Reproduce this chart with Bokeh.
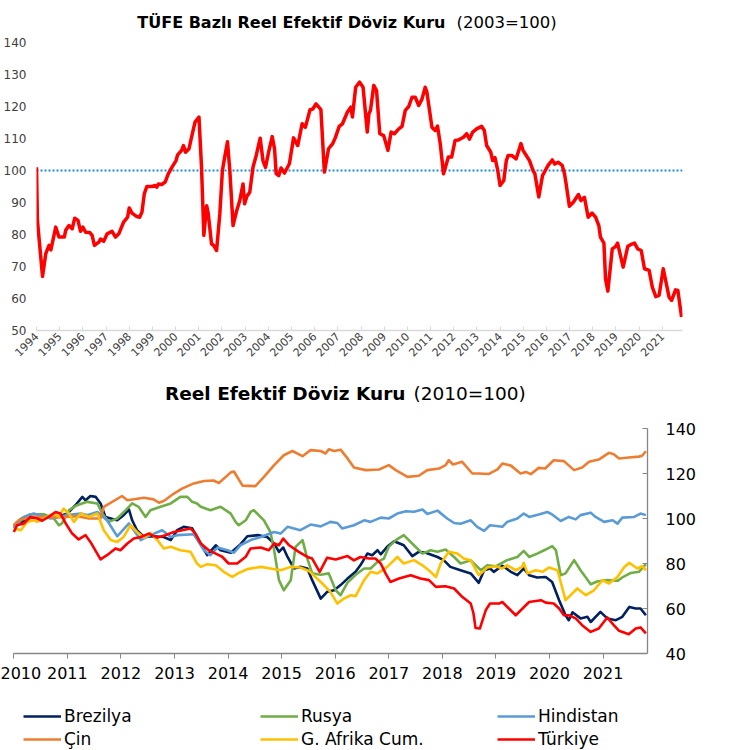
import math
from bokeh.plotting import figure
from bokeh.models import FixedTicker, Span, Legend, LegendItem, Range1d, Label
from bokeh.layouts import column
from bokeh.embed import file_html
from bokeh.resources import INLINE

FONT = "DejaVu Sans"

# ---------------- Top chart: TÜFE bazlı reel efektif döviz kuru (2003=100) ----------------
top_title_bold = "TÜFE Bazlı Reel Efektif Döviz Kuru"
top_title_rest = "(2003=100)"
tufe_t = [1994.00, 1994.04, 1994.26, 1994.40, 1994.54, 1994.62, 1994.83, 1994.97, 1995.20, 1995.26,
          1995.40, 1995.54, 1995.65, 1995.79, 1995.90, 1996.00, 1996.12, 1996.30, 1996.40, 1996.50,
          1996.69, 1996.76, 1996.90, 1997.05, 1997.26, 1997.41, 1997.55, 1997.76, 1997.93, 1998.00,
          1998.12, 1998.33, 1998.45, 1998.55, 1998.65, 1998.76, 1998.98, 1999.12, 1999.19, 1999.26,
          1999.40, 1999.55, 1999.69, 1999.84, 2000.02, 2000.09, 2000.26, 2000.34, 2000.43, 2000.58,
          2000.69, 2000.84, 2001.01, 2001.12, 2001.22, 2001.34, 2001.41, 2001.55, 2001.65, 2001.77,
          2001.91, 2002.02, 2002.12, 2002.24, 2002.34, 2002.48, 2002.62, 2002.77, 2002.91, 2002.98,
          2003.08, 2003.20, 2003.34, 2003.48, 2003.65, 2003.77, 2003.88, 2004.03, 2004.17, 2004.27,
          2004.34, 2004.45, 2004.55, 2004.70, 2004.91, 2005.09, 2005.27, 2005.46, 2005.60, 2005.80,
          2005.92, 2006.06, 2006.27, 2006.42, 2006.60, 2006.77, 2006.89, 2007.06, 2007.20, 2007.41,
          2007.56, 2007.63, 2007.77, 2007.94, 2008.09, 2008.27, 2008.34, 2008.41, 2008.55, 2008.67,
          2008.81, 2008.98, 2009.16, 2009.30, 2009.44, 2009.63, 2009.77, 2009.91, 2010.06, 2010.20,
          2010.34, 2010.49, 2010.63, 2010.77, 2010.84, 2011.06, 2011.20, 2011.30, 2011.42, 2011.56,
          2011.77, 2011.91, 2012.06, 2012.20, 2012.42, 2012.56, 2012.68, 2012.82, 2012.99, 2013.20,
          2013.32, 2013.42, 2013.60, 2013.68, 2013.78, 2013.90, 2014.00, 2014.16, 2014.27, 2014.35,
          2014.50, 2014.69, 2014.83, 2014.90, 2014.99, 2015.13, 2015.27, 2015.42, 2015.50, 2015.67,
          2015.83, 2015.95, 2016.07, 2016.25, 2016.36, 2016.50, 2016.68, 2016.78, 2016.85, 2016.99,
          2017.16, 2017.38, 2017.49, 2017.64, 2017.80, 2017.97, 2018.12, 2018.26, 2018.33, 2018.48,
          2018.55, 2018.65, 2018.84, 2018.98, 2019.07, 2019.31, 2019.51, 2019.65, 2019.80, 2019.94,
          2020.09, 2020.23, 2020.43, 2020.57, 2020.72, 2020.86, 2021.04, 2021.29, 2021.40, 2021.57,
          2021.67, 2021.83]
tufe_v = [101.0, 84.4, 66.9, 74.0, 76.6, 75.2, 82.3, 79.2, 79.2, 81.3,
          82.8, 81.8, 85.1, 84.4, 81.0, 82.3, 80.7, 80.6, 79.7, 76.6,
          77.6, 78.6, 77.9, 80.2, 81.0, 79.2, 80.2, 83.9, 85.4, 88.3,
          86.7, 85.6, 85.4, 87.0, 92.7, 95.0, 95.0, 95.3, 94.8, 95.8,
          95.6, 96.4, 99.0, 101.0, 103.1, 104.9, 106.3, 107.8, 105.7, 106.8,
          110.4, 115.1, 116.7, 101.0, 79.7, 89.0, 86.5, 77.1, 76.5, 75.0,
          86.5, 100.0, 104.2, 109.0, 100.0, 82.8, 87.0, 90.6, 95.8, 89.6,
          92.0, 93.2, 101.0, 104.7, 110.1, 103.1, 101.0, 106.3, 110.6, 106.8,
          99.0, 98.4, 100.8, 99.2, 102.1, 110.2, 107.8, 114.6, 113.5, 119.0,
          119.2, 120.8, 119.0, 99.5, 106.8, 108.3, 110.2, 113.8, 114.6, 118.2,
          119.8, 116.7, 126.0, 127.6, 126.0, 112.0, 117.7, 118.8, 126.6, 125.0,
          111.5, 110.9, 106.3, 112.0, 111.5, 113.0, 113.8, 118.8, 120.0, 122.9,
          122.9, 120.3, 122.3, 126.0, 124.6, 113.5, 112.5, 113.9, 108.3, 99.0,
          104.2, 104.2, 109.4, 109.5, 110.4, 111.5, 109.8, 112.0, 113.0, 113.8,
          112.5, 107.8, 105.7, 103.1, 104.0, 100.0, 95.3, 96.9, 103.1, 104.7,
          104.7, 103.6, 106.8, 108.4, 106.3, 104.7, 103.1, 100.0, 99.0, 91.7,
          98.4, 100.0, 101.6, 103.3, 102.0, 102.6, 101.6, 99.0, 95.8, 88.8,
          90.1, 92.5, 90.6, 91.6, 85.4, 86.7, 85.4, 82.8, 79.2, 77.3,
          66.1, 62.3, 75.5, 76.2, 77.3, 69.8, 76.3, 76.9, 77.3, 75.5,
          75.0, 69.3, 68.8, 63.5, 60.6, 61.0, 69.3, 60.4, 59.4, 62.7,
          62.5, 54.2]
TUFE_BASE = 100
top_years = list(range(1994, 2022))
top_yticks = list(range(50, 150, 10))

# ---------------- Bottom chart: Reel efektif döviz kuru (2010=100) ----------------
bottom_title_bold = "Reel Efektif Döviz Kuru"
bottom_title_rest = "(2010=100)"
brezilya_t = [2010.00, 2010.25, 2010.50, 2010.81, 2011.00, 2011.15, 2011.28, 2011.34, 2011.43, 2011.53,
              2011.62, 2011.71, 2011.81, 2011.93, 2012.05, 2012.15, 2012.21, 2012.30, 2012.43, 2012.61,
              2012.80, 2012.93, 2013.05, 2013.17, 2013.33, 2013.42, 2013.61, 2013.77, 2013.86, 2014.05,
              2014.23, 2014.36, 2014.55, 2014.73, 2014.86, 2014.95, 2015.03, 2015.11, 2015.23, 2015.35,
              2015.48, 2015.57, 2015.73, 2015.85, 2015.98, 2016.10, 2016.23, 2016.38, 2016.47, 2016.60,
              2016.69, 2016.79, 2016.85, 2016.97, 2017.10, 2017.28, 2017.44, 2017.56, 2017.69, 2017.91,
              2018.03, 2018.15, 2018.34, 2018.53, 2018.68, 2018.78, 2018.89, 2018.96, 2019.12, 2019.28,
              2019.40, 2019.52, 2019.62, 2019.77, 2019.93, 2020.05, 2020.18, 2020.30, 2020.36, 2020.43,
              2020.58, 2020.71, 2020.77, 2020.95, 2021.08, 2021.24, 2021.36, 2021.49, 2021.61, 2021.70,
              2021.80]
brezilya_v = [96.3, 100.0, 100.7, 100.7, 102.2, 105.9, 109.6, 108.1, 110.0, 109.6,
              106.7, 100.7, 100.0, 99.2, 101.5, 104.0, 99.2, 94.8, 91.8, 92.1,
              91.8, 90.4, 94.8, 96.3, 95.6, 91.8, 83.7, 88.1, 85.9, 84.8,
              88.5, 92.1, 92.6, 91.8, 88.9, 85.2, 87.1, 82.9, 77.8, 78.5,
              77.8, 72.6, 64.4, 67.4, 68.1, 70.4, 73.3, 76.3, 79.2, 84.4,
              83.7, 85.9, 84.1, 87.4, 89.9, 88.1, 83.3, 85.2, 84.8, 82.9,
              81.4, 78.5, 77.0, 75.6, 71.4, 77.0, 77.8, 76.3, 79.0, 76.3,
              74.8, 77.8, 74.8, 73.8, 74.0, 71.8, 63.7, 57.0, 54.8, 58.3,
              55.6, 56.3, 54.0, 58.5, 55.6, 54.8, 56.3, 60.7, 60.0, 60.0,
              57.0]

rusya_t = [2010.00, 2010.13, 2010.31, 2010.56, 2010.75, 2010.84, 2010.90, 2011.03, 2011.18, 2011.37,
           2011.56, 2011.65, 2011.77, 2011.93, 2012.09, 2012.21, 2012.33, 2012.46, 2012.55, 2012.74,
           2012.93, 2013.11, 2013.24, 2013.33, 2013.42, 2013.49, 2013.67, 2013.86, 2014.05, 2014.14,
           2014.20, 2014.33, 2014.42, 2014.48, 2014.67, 2014.79, 2014.86, 2014.95, 2015.04, 2015.17,
           2015.26, 2015.39, 2015.48, 2015.57, 2015.73, 2015.88, 2016.01, 2016.10, 2016.23, 2016.38,
           2016.54, 2016.66, 2016.79, 2016.91, 2017.00, 2017.13, 2017.28, 2017.47, 2017.63, 2017.78,
           2017.91, 2018.06, 2018.22, 2018.34, 2018.53, 2018.72, 2018.84, 2019.00, 2019.21, 2019.40,
           2019.52, 2019.62, 2019.77, 2019.93, 2020.05, 2020.12, 2020.21, 2020.30, 2020.46, 2020.58,
           2020.77, 2020.89, 2021.08, 2021.27, 2021.36, 2021.52, 2021.67, 2021.80]
rusya_v = [97.0, 99.9, 101.9, 101.9, 100.0, 97.0, 97.8, 103.7, 105.9, 107.4,
           106.7, 102.2, 98.5, 100.0, 103.7, 106.7, 105.2, 100.7, 103.7, 105.2,
           106.7, 109.6, 109.6, 107.4, 106.7, 105.2, 103.7, 105.2, 102.2, 98.5,
           97.0, 99.2, 102.9, 103.7, 99.2, 94.0, 85.9, 72.6, 68.1, 72.6,
           87.4, 90.4, 82.2, 75.6, 75.0, 75.6, 68.1, 65.9, 71.5, 75.0,
           77.8, 77.8, 80.7, 82.2, 87.4, 90.4, 92.6, 88.1, 84.4, 85.9,
           85.2, 86.2, 82.9, 80.0, 81.4, 77.0, 79.2, 78.8, 81.5, 82.9,
           85.6, 82.9, 84.4, 86.2, 87.7, 85.9, 74.8, 75.6, 81.5, 77.0,
           70.8, 72.0, 72.6, 72.3, 73.8, 75.8, 76.3, 79.7]

hindistan_t = [2010.00, 2010.19, 2010.37, 2010.69, 2011.00, 2011.25, 2011.37, 2011.56, 2011.74, 2011.93,
               2012.15, 2012.37, 2012.55, 2012.77, 2012.93, 2013.05, 2013.36, 2013.55, 2013.67, 2013.80,
               2013.99, 2014.11, 2014.23, 2014.42, 2014.61, 2014.86, 2014.98, 2015.11, 2015.35, 2015.54,
               2015.73, 2015.91, 2016.04, 2016.13, 2016.35, 2016.54, 2016.66, 2016.85, 2017.00, 2017.16,
               2017.32, 2017.47, 2017.63, 2017.72, 2017.91, 2018.09, 2018.22, 2018.34, 2018.53, 2018.65,
               2018.78, 2018.89, 2019.12, 2019.21, 2019.40, 2019.52, 2019.62, 2019.80, 2019.96, 2020.05,
               2020.21, 2020.36, 2020.49, 2020.58, 2020.77, 2020.86, 2021.02, 2021.18, 2021.27, 2021.36,
               2021.58, 2021.70, 2021.80]
hindistan_v = [95.6, 100.7, 102.2, 100.0, 101.5, 102.2, 101.5, 102.9, 99.2, 92.1,
               97.8, 90.4, 92.6, 94.8, 91.8, 92.6, 93.0, 85.9, 83.7, 87.1,
               85.9, 84.8, 88.1, 90.4, 91.8, 94.0, 93.3, 96.3, 94.8, 97.3,
               96.5, 98.5, 98.0, 95.6, 97.0, 99.2, 98.5, 100.4, 100.0, 102.2,
               103.2, 103.0, 104.0, 102.0, 103.5, 100.0, 98.0, 97.7, 99.2, 96.3,
               94.5, 97.0, 96.3, 98.5, 100.0, 102.2, 100.7, 101.8, 102.9, 101.8,
               98.9, 100.7, 99.6, 101.5, 102.6, 100.7, 98.5, 99.2, 97.7, 100.4,
               100.7, 102.2, 101.5]

cin_t = [2010.00, 2010.09, 2010.37, 2010.80, 2011.19, 2011.40, 2011.62, 2011.68, 2012.02, 2012.12,
         2012.43, 2012.61, 2012.71, 2012.80, 2012.99, 2013.14, 2013.36, 2013.55, 2013.73, 2013.83,
         2014.05, 2014.11, 2014.27, 2014.51, 2014.67, 2014.86, 2015.04, 2015.20, 2015.39, 2015.54,
         2015.73, 2015.82, 2015.88, 2015.98, 2016.10, 2016.23, 2016.35, 2016.57, 2016.82, 2017.00,
         2017.13, 2017.35, 2017.56, 2017.72, 2017.94, 2018.06, 2018.12, 2018.20, 2018.37, 2018.56,
         2018.68, 2018.87, 2019.03, 2019.12, 2019.28, 2019.46, 2019.56, 2019.65, 2019.80, 2019.92,
         2020.08, 2020.27, 2020.46, 2020.61, 2020.74, 2020.92, 2021.11, 2021.20, 2021.30, 2021.48,
         2021.67, 2021.73, 2021.80]
cin_v = [97.0, 99.2, 100.8, 100.5, 101.0, 100.0, 100.0, 105.2, 110.0, 108.1,
         109.2, 108.5, 107.0, 107.8, 111.1, 113.3, 115.6, 116.7, 116.9, 115.8,
         120.5, 120.9, 114.6, 114.4, 118.5, 123.7, 128.1, 130.0, 127.7, 130.4,
         130.0, 128.9, 130.8, 130.0, 130.6, 126.7, 122.7, 121.5, 121.8, 123.7,
         121.5, 118.5, 119.0, 121.5, 122.2, 123.7, 125.9, 124.0, 125.2, 120.0,
         120.0, 119.8, 121.8, 124.4, 123.5, 120.0, 120.7, 119.7, 122.5, 122.2,
         125.9, 125.5, 121.5, 122.7, 125.2, 126.2, 129.2, 128.6, 126.7, 127.1,
         127.5, 127.9, 129.9]

gafrika_t = [2010.00, 2010.13, 2010.25, 2010.37, 2010.44, 2010.56, 2010.75, 2010.84, 2010.93, 2011.03,
             2011.12, 2011.25, 2011.40, 2011.56, 2011.68, 2011.81, 2011.93, 2012.05, 2012.18, 2012.30,
             2012.43, 2012.55, 2012.68, 2012.80, 2012.93, 2013.11, 2013.30, 2013.42, 2013.49, 2013.61,
             2013.77, 2013.92, 2014.08, 2014.20, 2014.36, 2014.61, 2014.79, 2014.98, 2015.17, 2015.35,
             2015.51, 2015.63, 2015.76, 2015.91, 2016.04, 2016.16, 2016.29, 2016.38, 2016.54, 2016.66,
             2016.79, 2016.97, 2017.16, 2017.28, 2017.47, 2017.63, 2017.78, 2017.88, 2017.97, 2018.12,
             2018.28, 2018.40, 2018.53, 2018.68, 2018.84, 2019.00, 2019.12, 2019.21, 2019.37, 2019.49,
             2019.52, 2019.59, 2019.74, 2019.87, 2019.99, 2020.15, 2020.30, 2020.52, 2020.68, 2020.83,
             2020.99, 2021.11, 2021.27, 2021.39, 2021.49, 2021.64, 2021.73, 2021.80]
gafrika_v = [95.6, 94.8, 98.5, 99.2, 98.5, 100.0, 102.2, 100.7, 104.4, 102.2,
             98.5, 102.2, 100.7, 102.2, 94.8, 90.4, 89.6, 91.8, 97.0, 94.0,
             91.5, 93.6, 90.4, 86.7, 87.4, 85.9, 85.2, 80.0, 78.5, 79.7,
             79.2, 76.3, 74.0, 75.8, 77.5, 78.5, 77.8, 77.0, 78.5, 78.2,
             76.7, 74.0, 71.1, 67.4, 62.2, 64.4, 65.9, 65.5, 72.6, 76.3,
             75.6, 78.5, 82.9, 80.0, 81.5, 79.2, 76.3, 74.0, 80.0, 85.2,
             84.4, 82.2, 81.4, 74.8, 78.2, 78.8, 77.8, 79.2, 77.0, 78.5,
             80.3, 75.6, 77.0, 76.3, 78.2, 77.0, 63.7, 68.9, 65.9, 68.1,
             72.6, 71.1, 74.0, 78.2, 80.3, 77.8, 78.8, 77.0]

turkiye_t = [2010.00, 2010.06, 2010.19, 2010.31, 2010.44, 2010.53, 2010.65, 2010.78, 2010.87, 2010.97,
             2011.09, 2011.21, 2011.34, 2011.43, 2011.62, 2011.74, 2011.90, 2011.99, 2012.12, 2012.24,
             2012.37, 2012.52, 2012.68, 2012.83, 2012.99, 2013.14, 2013.30, 2013.39, 2013.49, 2013.64,
             2013.77, 2013.89, 2014.01, 2014.17, 2014.33, 2014.42, 2014.61, 2014.76, 2014.86, 2014.95,
             2015.03, 2015.14, 2015.32, 2015.48, 2015.57, 2015.71, 2015.85, 2016.01, 2016.23, 2016.35,
             2016.47, 2016.63, 2016.75, 2016.85, 2016.94, 2017.03, 2017.19, 2017.41, 2017.59, 2017.75,
             2017.88, 2018.06, 2018.22, 2018.37, 2018.53, 2018.58, 2018.62, 2018.70, 2018.81, 2018.89,
             2019.06, 2019.12, 2019.37, 2019.62, 2019.84, 2019.93, 2020.08, 2020.18, 2020.27, 2020.36,
             2020.49, 2020.61, 2020.77, 2020.92, 2021.08, 2021.20, 2021.30, 2021.48, 2021.61, 2021.70,
             2021.80]
turkiye_v = [94.0, 97.0, 97.8, 100.7, 100.0, 99.0, 100.7, 102.9, 102.2, 97.8,
             93.3, 90.7, 92.6, 89.6, 81.8, 83.7, 86.7, 85.9, 88.9, 91.1,
             91.8, 93.3, 91.5, 92.6, 94.0, 94.8, 95.6, 93.3, 88.9, 85.9,
             84.4, 83.0, 80.0, 80.0, 83.0, 86.7, 87.1, 85.9, 88.9, 88.1,
             91.1, 88.1, 85.2, 82.9, 82.2, 76.3, 82.6, 81.8, 83.3, 81.4,
             82.9, 82.2, 82.2, 80.0, 75.6, 71.8, 73.3, 74.8, 73.3, 72.6,
             69.6, 69.9, 68.9, 65.2, 62.2, 58.0, 51.3, 51.1, 59.2, 62.2,
             62.2, 62.9, 57.0, 62.9, 63.7, 62.6, 62.2, 60.0, 57.0, 57.0,
             55.6, 52.6, 49.6, 51.1, 56.0, 52.6, 50.1, 48.6, 51.1, 51.6,
             48.9]

series_names = ["Brezilya", "Rusya", "Hindistan", "Çin", "G. Afrika Cum.", "Türkiye"]
series_t = [brezilya_t, rusya_t, hindistan_t, cin_t, gafrika_t, turkiye_t]
series_v = [brezilya_v, rusya_v, hindistan_v, cin_v, gafrika_v, turkiye_v]
series_colors = ["#002060", "#70AD47", "#5B9BD5", "#ED7D31", "#FFC000", "#FF0000"]
bottom_years = list(range(2010, 2022))
bottom_yticks = list(range(40, 160, 20))

# ================= top figure (frame reaches up to hold the title) =================
# 140 sits 37 px below the frame top, at 3.2 px per unit
p1 = figure(width=735, height=375, x_range=Range1d(1994.0, 2021.87),
            y_range=Range1d(50, 140 + 37 / 3.2), frame_align=False,
            output_backend="svg", toolbar_location=None,
            min_border_left=32, min_border_right=53, min_border_top=5, min_border_bottom=45)
p1.outline_line_color = None
p1.grid.visible = False

p1.add_layout(Span(location=TUFE_BASE, dimension="width", line_color="#1F8DD6",
                   line_dash="2 2", line_width=2, level="underlay"))
p1.line(tufe_t, tufe_v, line_color="#FF0000", line_width=3.5, line_join="round")

p1.yaxis.ticker = FixedTicker(ticks=top_yticks)
p1.yaxis.bounds = (50, 140)
p1.yaxis.axis_line_color = None
p1.yaxis.major_tick_line_color = None
p1.yaxis.minor_tick_line_color = None
p1.yaxis.major_label_standoff = 4
p1.yaxis.major_label_text_font = FONT
p1.yaxis.major_label_text_font_size = "12px"
p1.yaxis.major_label_text_color = "#404040"

p1.xaxis.ticker = FixedTicker(ticks=top_years)
p1.xaxis.axis_line_color = "#D9D9D9"
p1.xaxis.axis_line_width = 1.5
p1.xaxis.major_tick_line_color = "#D9D9D9"
p1.xaxis.major_tick_in = 4
p1.xaxis.major_tick_out = 0
p1.xaxis.minor_tick_line_color = None
p1.xaxis.major_label_orientation = math.pi / 4
p1.xaxis.major_label_standoff = 4
p1.xaxis.major_label_text_font = FONT
p1.xaxis.major_label_text_font_size = "11px"
p1.xaxis.major_label_text_color = "#404040"

p1.add_layout(Label(x=409, y=308, x_units="screen", y_units="screen", text=top_title_bold,
                    text_font=FONT, text_font_style="bold", text_font_size="16px",
                    text_color="#000000", text_align="right", text_baseline="middle"))
p1.add_layout(Label(x=420, y=308, x_units="screen", y_units="screen", text=top_title_rest,
                    text_font=FONT, text_font_size="16.5px",
                    text_color="#000000", text_align="left", text_baseline="middle"))

# ================= bottom figure (frame spans the whole figure width and height) ==========
# 2010 sits 13.3 px from the left edge (53.55 px per year); 140 sits 48 px below the top
# and 40 sits 97 px above the bottom (2.25 px per unit)
X0_PAD = 13.3 / 53.55
p2 = figure(width=735, height=375, x_range=Range1d(2010.0 - X0_PAD, 2021.83),
            y_range=Range1d(40 - 97 / 2.25, 140 + 48 / 2.25), frame_align=False,
            y_axis_location="right", output_backend="svg", toolbar_location=None,
            min_border_left=0, min_border_right=88, min_border_top=5, min_border_bottom=0)
p2.outline_line_color = None
p2.grid.visible = False

renderers = []
for t, v, c in zip(series_t, series_v, series_colors):
    r = p2.line(t, v, line_color=c, line_width=2.6, line_join="round")
    renderers.append(r)

p2.yaxis.ticker = FixedTicker(ticks=bottom_yticks)
p2.yaxis.bounds = (40, 140)
p2.yaxis.axis_line_color = "#868686"
p2.yaxis.axis_line_width = 1.3
p2.yaxis.major_tick_line_color = "#868686"
p2.yaxis.major_tick_in = 5
p2.yaxis.major_tick_out = 0
p2.yaxis.minor_tick_line_color = None
p2.yaxis.major_label_standoff = 18
p2.yaxis.major_label_text_font = FONT
p2.yaxis.major_label_text_font_size = "16px"
p2.yaxis.major_label_text_color = "#000000"

p2.xaxis.fixed_location = 40
p2.xaxis.bounds = (2010.0, 2021.83)
p2.xaxis.ticker = FixedTicker(ticks=bottom_years)
p2.xaxis.axis_line_color = "#868686"
p2.xaxis.axis_line_width = 1.3
p2.xaxis.major_tick_line_color = "#868686"
p2.xaxis.major_tick_in = 0
p2.xaxis.major_tick_out = 5
p2.xaxis.minor_tick_line_color = None
p2.xaxis.major_label_standoff = 8
p2.xaxis.major_label_text_font = FONT
p2.xaxis.major_label_text_font_size = "16px"
p2.xaxis.major_label_text_color = "#000000"

p2.add_layout(Label(x=405, y=357, x_units="screen", y_units="screen", text=bottom_title_bold,
                    text_font=FONT, text_font_style="bold", text_font_size="18.5px",
                    text_color="#000000", text_align="right", text_baseline="middle"))
p2.add_layout(Label(x=413, y=357, x_units="screen", y_units="screen", text=bottom_title_rest,
                    text_font=FONT, text_font_size="18.5px",
                    text_color="#000000", text_align="left", text_baseline="middle"))

items = [LegendItem(label=n, renderers=[r]) for n, r in zip(series_names, renderers)]
legend = Legend(items=items, location=(23, 1), orientation="horizontal", ncols=3,
                glyph_width=38, glyph_height=18, label_height=18, label_width=193,
                label_standoff=3, spacing=3, padding=0, margin=0,
                border_line_alpha=0, background_fill_alpha=0,
                label_text_font=FONT, label_text_font_size="17px", label_text_color="#000000")
p2.add_layout(legend)

layout = column(p1, p2, spacing=0)
open("out.html", "w").write(file_html(layout, INLINE))
